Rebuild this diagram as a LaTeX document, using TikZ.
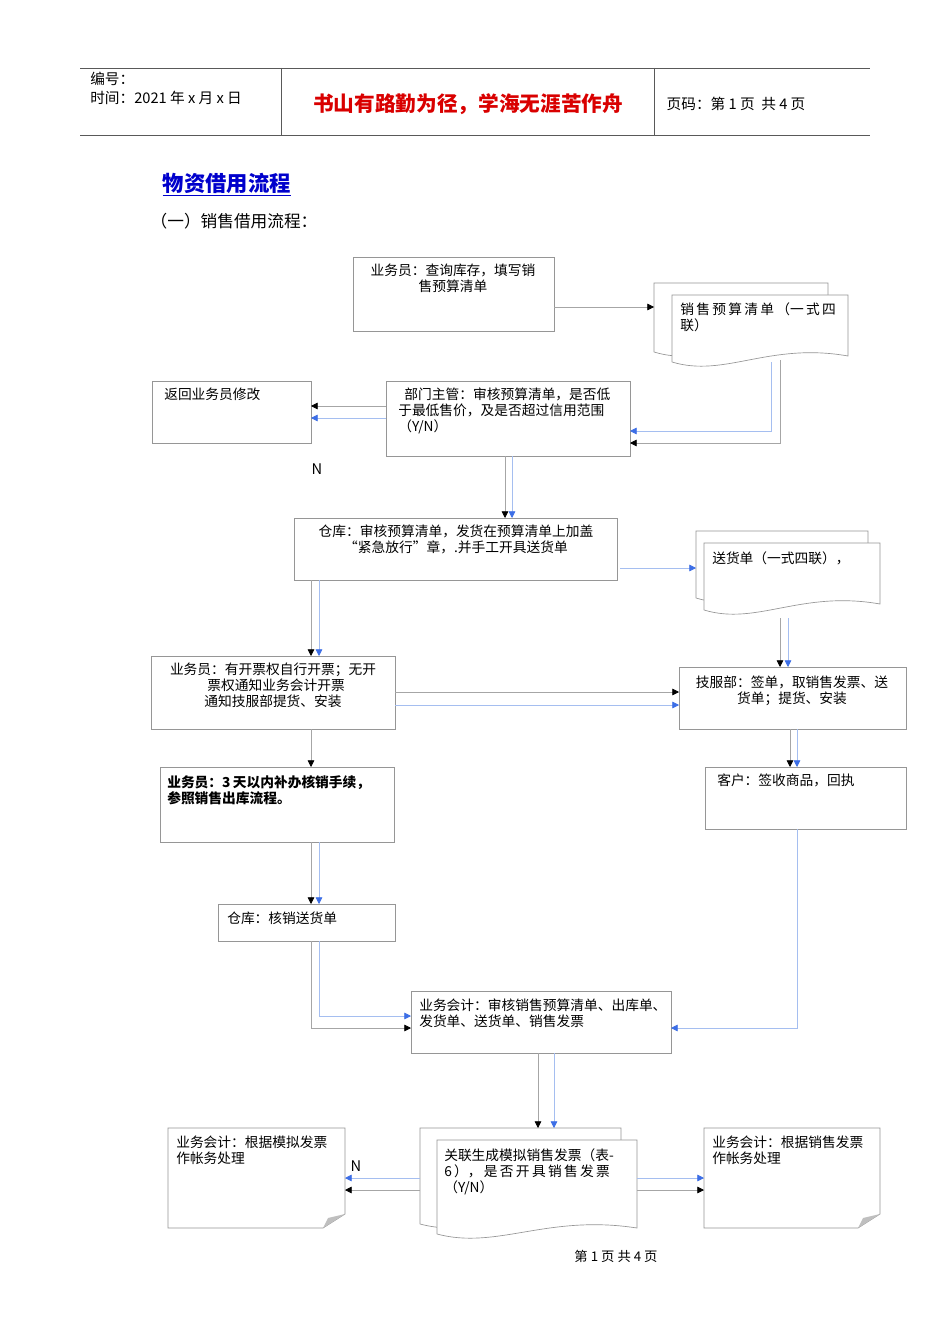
\documentclass[tikz,border=0pt]{standalone}
\usepackage{fontspec}
\setmainfont{Noto Sans CJK SC}
\XeTeXlinebreaklocale "zh"
\XeTeXlinebreakskip=0pt plus 1pt
\usetikzlibrary{arrows.meta}
\definecolor{lb}{RGB}{165,190,240}
\definecolor{bt}{RGB}{60,110,230}
\definecolor{bx}{RGB}{150,150,150}
\tikzset{x=0.75pt,y=-0.75pt,
 boxline/.style={draw=bx,line width=0.5pt},
 txt/.style={anchor=north west,inner sep=0pt,font=\fontsize{10.3}{12}\selectfont,align=left},
 ctx/.style={anchor=north,inner sep=0pt,font=\fontsize{10.3}{12}\selectfont,align=center},
 ka/.style={draw=gray!70,line width=0.6pt,-{Triangle[length=5pt,width=5pt,fill=black,color=black]}},
 ba/.style={draw=lb,line width=0.6pt,-{Triangle[length=5pt,width=5pt,fill=bt,color=bt]}}}
\newcommand\docshape[4]{% x1 y1 x2 ybottom
 \fill[white] (#1,#2) -- (#3,#2) -- (#3,#4-14) .. controls ({#1+0.55*(#3-#1)},#4-28) and ({#1+0.3*(#3-#1)},#4+8) .. (#1,#4-8) -- cycle;
 \draw[boxline] (#1,#4-8) -- (#1,#2) -- (#3,#2) -- (#3,#4-14) .. controls ({#1+0.55*(#3-#1)},#4-28) and ({#1+0.3*(#3-#1)},#4+8) .. (#1,#4-8);}
\newcommand\foldbox[4]{%
 \draw[boxline] (#1,#2) -- (#3,#2) -- (#3,#4-14) -- (#3-22,#4) -- (#1,#4) -- cycle;
 \fill[gray!50] (#3,#4-14) -- (#3-22,#4) -- (#3-17,#4-10) -- cycle;}
\begin{document}
\begin{tikzpicture}
\useasboundingbox (0,0) rectangle (950,1344);
\fill[white] (0,0) rectangle (950,1344);
% header
\draw[gray!70!black,line width=0.6pt] (80,68) -- (870,68) (80,135) -- (870,135) (281,68) -- (281,135) (654,68) -- (654,135);
\node[txt,font=\fontsize{11}{14}\selectfont] (h1) at (90,72) {编号：\\时间：2021 年 x 月 x 日};
\node[font=\bfseries\fontsize{15.5}{18}\selectfont,text=red!85!black] (h2) at (468,104) {书山有路勤为径，学海无涯苦作舟};
\node[anchor=west,font=\fontsize{11}{14}\selectfont] (h3) at (662,104) {页码：第 1 页\ \ 共 4 页};
\node[anchor=west,font=\bfseries\fontsize{16}{19}\selectfont,text=blue!80!black] (t1) at (158,185) {\underline{物资借用流程}};
\node[anchor=west,font=\fontsize{12.5}{15}\selectfont] (t2) at (146,221) {（一）销售借用流程：};
% boxes
\draw[boxline] (353,257) rectangle (554,331);
\node[ctx] (A) at (453,264) {业务员：查询库存，填写销\\售预算清单};
\docshape{654}{283}{828}{360}
\docshape{672}{295}{848}{370}
\node[txt] (D1) at (680,302) {销\,售\,预\,算\,清\,单\,（一\,式\,四\\联）};
\draw[boxline] (386,381) rectangle (630,456);
\node[txt] (B) at (398,388) {\ \ 部门主管：审核预算清单，是否低\\于最低售价，及是否超过信用范围\\（Y/N）};
\draw[boxline] (152,381) rectangle (311,443);
\node[txt] (R) at (164,388) {返回业务员修改};
\node[font=\fontsize{11}{13}\selectfont] (N1) at (317,469) {N};
\draw[boxline] (294,518) rectangle (617,580);
\node[ctx] (C) at (456,525) {仓库：审核预算清单，发货在预算清单上加盖\\“紧急放行”章，.并手工开具送货单};
\docshape{696}{531}{868}{606}
\docshape{704}{543}{880}{618}
\node[txt] (D2) at (712,551) {送货单（一式四联），};
\draw[boxline] (151,656) rectangle (395,729);
\node[ctx] (D) at (273,663) {业务员：有开票权自行开票；无开\\\ \ 票权通知业务会计开票\\通知技服部提货、安装};
\draw[boxline] (679,667) rectangle (906,729);
\node[ctx] (E) at (792,676) {技服部：签单，取销售发票、送\\货单；提货、安装};
\draw[boxline] (160,767) rectangle (394,842);
\node[txt,font=\bfseries\fontsize{10.3}{12}\selectfont] (F) at (167,775) {业务员：3\,天以内补办核销手续，\\参照销售出库流程。};
\draw[boxline] (705,767) rectangle (906,829);
\node[txt] (G) at (717,774) {客户：签收商品，回执};
\draw[boxline] (218,904) rectangle (395,941);
\node[txt] (H) at (227,912) {仓库：核销送货单};
\draw[boxline] (411,991) rectangle (671,1053);
\node[txt] (I) at (419,999) {业务会计：审核销售预算清单、出库单、\\发货单、送货单、销售发票};
\docshape{420}{1128}{621}{1232}
\docshape{437}{1140}{637}{1242}
\node[txt] (D3) at (444,1148) {关联生成模拟销售发票（表-\\6\,），\,是\,否\,开\,具\,销\,售\,发\,票\\（Y/N）};
\foldbox{168}{1128}{345}{1228}
\node[txt] (J) at (176,1136) {业务会计：根据模拟发票\\作帐务处理};
\foldbox{704}{1128}{880}{1228}
\node[txt] (K) at (712,1136) {业务会计：根据销售发票\\作帐务处理};
\node[font=\fontsize{11}{13}\selectfont] (N2) at (356,1166) {N};
\node[font=\fontsize{10}{12}\selectfont] (ft) at (616,1256) {第 1 页 共 4 页};
% arrows
\draw[ka] (554,307) -- (654,307);
\draw[ba] (771,362) -- (771,431) -- (630,431);
\draw[ka] (780,360) -- (780,443) -- (630,443);
\draw[ka] (386,406) -- (311,406);
\draw[ba] (386,418) -- (311,418);
\draw[ka] (505,456) -- (505,518);
\draw[ba] (512,456) -- (512,518);
\draw[ba] (620,568) -- (696,568);
\draw[ka] (311,580) -- (311,656);
\draw[ba] (319,580) -- (319,656);
\draw[ka] (395,692) -- (679,692);
\draw[ba] (395,705) -- (679,705);
\draw[ka] (780,618) -- (780,667);
\draw[ba] (788,618) -- (788,667);
\draw[ka] (790,729) -- (790,767);
\draw[ba] (797,729) -- (797,767);
\draw[ka] (311,729) -- (311,767);
\draw[ka] (311,842) -- (311,904);
\draw[ba] (319,842) -- (319,904);
\draw[ba] (319,941) -- (319,1016) -- (411,1016);
\draw[ka] (311,941) -- (311,1028) -- (411,1028);
\draw[ba] (797,829) -- (797,1028) -- (671,1028);
\draw[ka] (538,1053) -- (538,1128);
\draw[ba] (554,1053) -- (554,1128);
\draw[ba] (420,1178) -- (345,1178);
\draw[ka] (420,1190) -- (345,1190);
\draw[ba] (637,1178) -- (704,1178);
\draw[ka] (637,1190) -- (704,1190);
\end{tikzpicture}
\end{document}
